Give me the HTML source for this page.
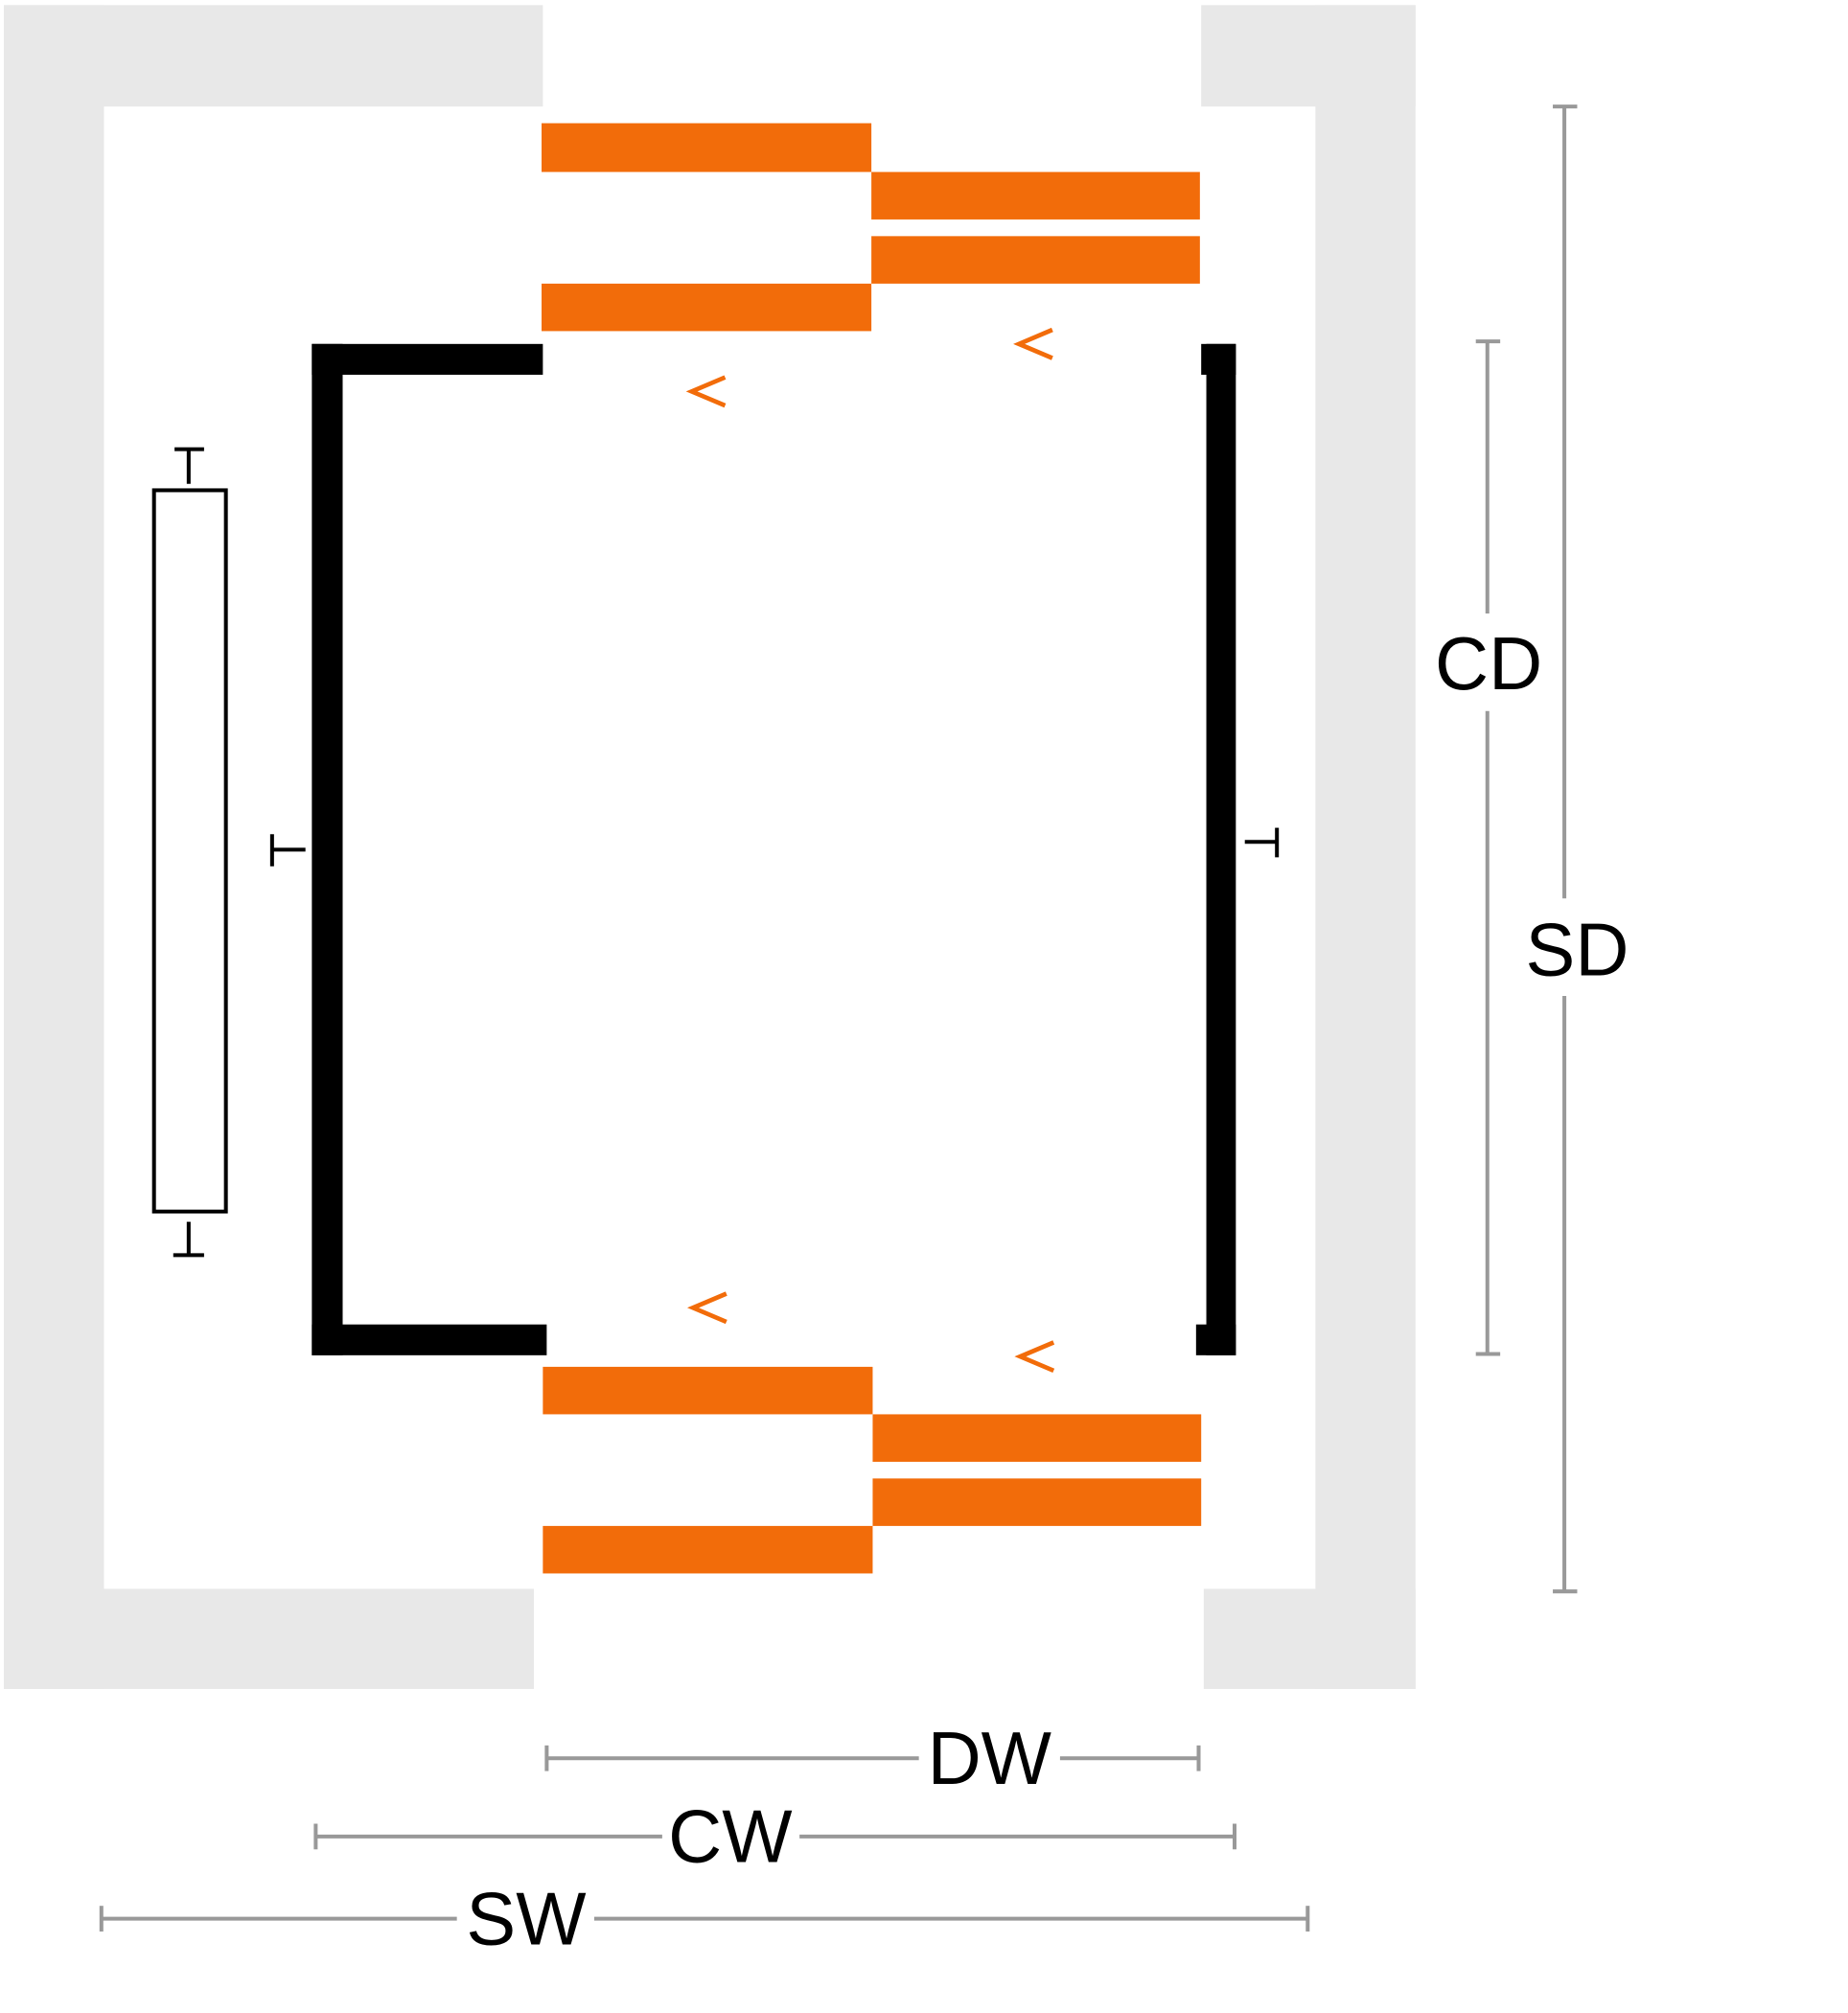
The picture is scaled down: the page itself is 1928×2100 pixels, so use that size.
<!DOCTYPE html>
<html><head><meta charset="utf-8"><style>html,body{margin:0;padding:0;background:#fff}svg{display:block}</style></head>
<body>
<svg width="1928" height="2100" viewBox="0 0 1440 1568.5" xmlns="http://www.w3.org/2000/svg" font-family="Liberation Sans, sans-serif">
<g fill="#e8e8e8">
<rect x="3" y="4" width="420" height="79"/>
<rect x="3" y="4" width="78" height="1312"/>
<rect x="3" y="1238" width="413" height="78"/>
<rect x="936" y="4" width="167" height="79"/>
<rect x="1025" y="4" width="78" height="1312"/>
<rect x="938" y="1238" width="165" height="78"/>
</g>
<g fill="#f26c0a">
<rect x="422" y="96" width="257" height="38"/>
<rect x="679" y="134" width="256" height="37"/>
<rect x="679" y="184" width="256" height="37"/>
<rect x="422" y="221" width="257" height="37"/>
<rect x="423" y="1065" width="257" height="37"/>
<rect x="680" y="1102" width="256" height="37"/>
<rect x="680" y="1152" width="256" height="37"/>
<rect x="423" y="1189" width="257" height="37"/>
</g>
<g fill="none" stroke="#f26c0a" stroke-width="3.5">
<polyline points="565,294 539,305 565,316"/>
<polyline points="820,257 794,268 820,279"/>
<polyline points="566,1008 540,1019 566,1030"/>
<polyline points="821,1046 795,1057 821,1068"/>
</g>
<g fill="#000">
<rect x="243" y="268" width="180" height="24"/>
<rect x="243" y="268" width="24" height="788"/>
<rect x="243" y="1032" width="183" height="24"/>
<rect x="940" y="268" width="23" height="788"/>
<rect x="936" y="268" width="27" height="24"/>
<rect x="932" y="1032" width="31" height="24"/>
</g>
<g fill="none" stroke="#000" stroke-width="3">
<rect x="120" y="382" width="56" height="562"/>
<line x1="147" y1="350" x2="147" y2="377"/><line x1="136" y1="350" x2="159" y2="350"/>
<line x1="147" y1="952" x2="147" y2="978"/><line x1="135" y1="978" x2="159" y2="978"/>
<line x1="212" y1="650" x2="212" y2="675"/><line x1="212" y1="662" x2="238" y2="662"/>
<line x1="995" y1="645" x2="995" y2="668"/><line x1="970" y1="656" x2="995" y2="656"/>
</g>
<g stroke="#999" stroke-width="3" fill="none">
<line x1="1219" y1="83" x2="1219" y2="700"/><line x1="1219" y1="776" x2="1219" y2="1240"/>
<line x1="1210" y1="83" x2="1229" y2="83"/><line x1="1210" y1="1240" x2="1229" y2="1240"/>
<line x1="1159" y1="266" x2="1159" y2="478"/><line x1="1159" y1="554" x2="1159" y2="1055"/>
<line x1="1150" y1="266" x2="1169" y2="266"/><line x1="1150" y1="1055" x2="1169" y2="1055"/>
<line x1="426" y1="1370" x2="716" y2="1370"/><line x1="826" y1="1370" x2="934" y2="1370"/>
<line x1="426" y1="1360" x2="426" y2="1380"/><line x1="934" y1="1360" x2="934" y2="1380"/>
<line x1="246" y1="1431" x2="516" y2="1431"/><line x1="623" y1="1431" x2="962" y2="1431"/>
<line x1="246" y1="1421" x2="246" y2="1441"/><line x1="962" y1="1421" x2="962" y2="1441"/>
<line x1="79" y1="1495" x2="356" y2="1495"/><line x1="463" y1="1495" x2="1019" y2="1495"/>
<line x1="79" y1="1485" x2="79" y2="1505"/><line x1="1019" y1="1485" x2="1019" y2="1505"/>
</g>
<g font-size="58" fill="#000" text-anchor="middle">
<text x="1229" y="760">SD</text>
<text x="1160" y="537">CD</text>
<text x="771" y="1390">DW</text>
<text x="569" y="1451">CW</text>
<text x="410" y="1515">SW</text>
</g>
</svg>
</body></html>
